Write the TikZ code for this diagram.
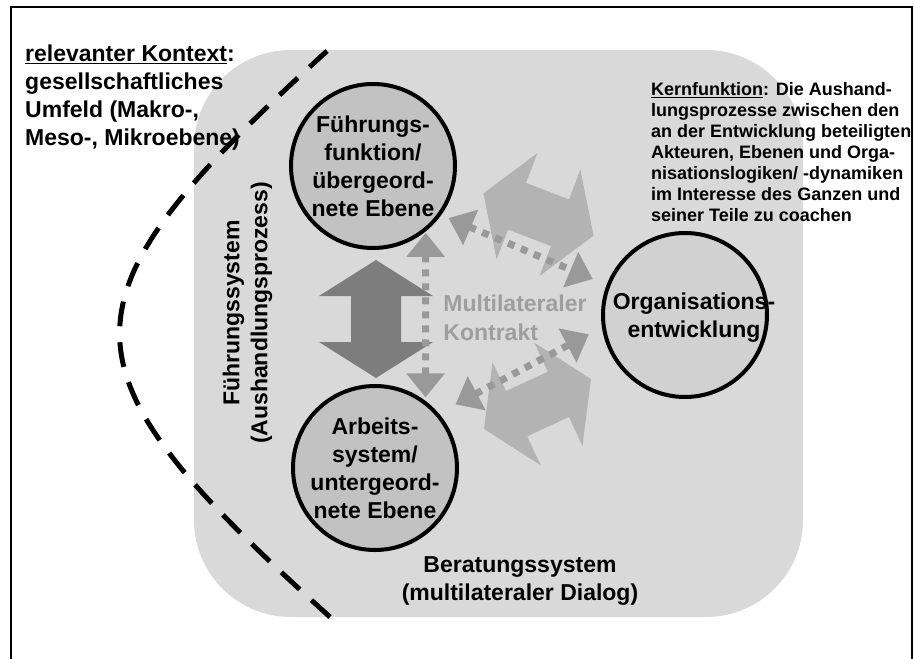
\documentclass[tikz,border=0pt]{standalone}
\usepackage{fontspec}
\setmainfont{Liberation Sans}
\usetikzlibrary{arrows.meta,calc}
\definecolor{bggray}{HTML}{D9D9D9}
\definecolor{circgray}{HTML}{C2C2C2}
\definecolor{orggray}{HTML}{D1D1D1}
\definecolor{darkarrow}{HTML}{7D7D7D}
\definecolor{lightarrow}{HTML}{B3B3B3}
\definecolor{dotgray}{HTML}{999999}
\definecolor{multigray}{HTML}{9E9E9E}
\tikzset{
    % Ebenen as circles
    ebene/.style={circle,draw,line width=4pt,fill=circgray,minimum size=164pt,inner sep=0pt,outer sep=0pt,align=center,font=\bfseries\fontsize{23}{28}\selectfont},
    % Plain bold label
    txt/.style={inner sep=0pt,align=center,font=\bfseries\fontsize{23}{28}\selectfont},
    % Dotted double arrow
    dotarrow/.style={{Triangle[length=24pt,width=37pt]}-{Triangle[length=24pt,width=37pt]},line width=7pt,dash pattern=on 7pt off 7pt,dotgray},
    % Context border
    border/.style={line width=5pt,dash pattern=on 25pt off 16pt},
    % Block double arrow
    blockarrow/.pic={
        \fill (-59,0) -- (-23,57) -- (-23,25) -- (23,25) -- (23,57) -- (59,0)
            -- (23,-57) -- (23,-25) -- (-23,-25) -- (-23,-57) -- cycle;
    }
}
\begin{document}
\begin{tikzpicture}[x=1pt,y=-1pt]
    \useasboundingbox (0,0) rectangle (914,659);

    % Outer frame (open at the bottom)
    \draw[line width=2pt] (11,659) -- (11,7) -- (912,7) -- (912,659);

    % Beratungssystem background
    \fill[bggray, rounded corners=97pt] (194,50) rectangle (803,617);

    % Context border line
    \draw[border] (330,617) .. controls (50,364) and (50,304) .. (327,51);

    % Ebenen
    \node[ebene] (fuehrung) at (373,166) {Führungs-\\funktion/\\übergeord-\\nete Ebene};
    \node[ebene] (arbeit) at (375,468) {Arbeits-\\system/\\untergeord-\\nete Ebene};
    \node[ebene, fill=orggray] (org) at (685,315) {};
    \node[txt] (orgtext) at ([xshift=9pt,yshift=-3pt]org.center) {Organisations-\\entwicklung};

    % Block arrows
    \pic[rotate=-21, fill=lightarrow] at (538.5,214.5) {blockarrow};
    \pic[rotate=25, fill=lightarrow] at (537.5,404) {blockarrow};
    \pic[rotate=90, fill=darkarrow] at ($(fuehrung)!0.5!(arbeit)+(2,2)$) {blockarrow};

    % Dotted connections
    \draw[dotarrow, shorten <=4pt, shorten >=6pt] (fuehrung.-50) -- (arbeit.52);
    \draw[dotarrow, shorten <=10pt, shorten >=17pt] (fuehrung.-36) -- (org.159);
    \draw[dotarrow, shorten <=21pt, shorten >=17pt] (arbeit.41) -- (org.-172);

    % Labels
    \node[txt, text=multigray, align=left, font=\bfseries\fontsize{23}{29}\selectfont] (kontrakt) at (515,318) {Multilateraler\\Kontrakt};
    \node[txt, rotate=90] (fsys) at (247.5,313) {Führungssystem\\(Aushandlungsprozess)};
    \node[txt] (bsys) at (520,581) {Beratungssystem\\(multilateraler Dialog)};
    \node[txt, align=left, anchor=north west] (kontext) at (25,45)
        {\underline{relevanter Kontext}:\\gesellschaftliches\\Umfeld (Makro-,\\Meso-, Mikroebene)};
    \node[txt, align=left, anchor=north west, font=\bfseries\fontsize{18}{21}\selectfont] (kern) at (651,82)
        {\underline{Kernfunktion}: Die Aushand-\\lungsprozesse zwischen den\\an der Entwicklung beteiligten\\Akteuren, Ebenen und Orga-\\nisationslogiken/ -dynamiken\\im Interesse des Ganzen und\\seiner Teile zu coachen};
\end{tikzpicture}
\end{document}
